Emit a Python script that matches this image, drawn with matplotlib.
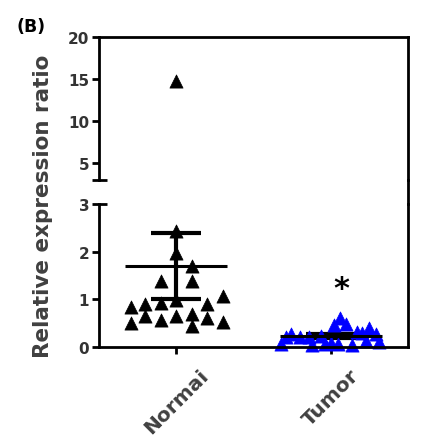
import matplotlib
matplotlib.use("Agg")
import matplotlib.pyplot as plt
from matplotlib.lines import Line2D
import numpy as np

# --- Data ---
groups = ["Normai", "Tumor"]
normal_vals = [14.8, 2.44, 1.98, 1.70, 1.39, 1.39, 1.07, 0.98, 0.84, 0.91,
               0.93, 0.90, 0.51, 0.65, 0.57, 0.64, 0.69, 0.60, 0.52, 0.44]
tumor_vals = [0.60, 0.46, 0.49, 0.32, 0.39, 0.28, 0.28, 0.21, 0.21, 0.23,
              0.06, 0.05, 0.06, 0.07, 0.05, 0.12, 0.11, 0.09, 0.20, 0.30]

# horizontal scatter offsets of the dots (dot-plot layout)
normal_jitter = [0.0, 0.0, 0.0, 0.10, -0.10, 0.10, 0.30, 0.0, -0.29, -0.20,
                 -0.10, 0.20, -0.29, -0.20, -0.10, 0.0, 0.10, 0.20, 0.30, 0.10]
tumor_jitter = [0.06, 0.02, 0.10, 0.17, 0.25, 0.29, -0.26, -0.20, -0.14, -0.06,
                -0.32, -0.12, -0.04, 0.05, 0.14, 0.23, 0.31, 0.0, -0.29, 0.20]

upper_ticks = [5, 10, 15, 20]
lower_ticks = [0, 1, 2, 3]
y_break = 3

W, H = 422, 439
fig = plt.figure(figsize=(W / 100, H / 100), dpi=100)

# axes boxes in pixels
x0, x1 = 99, 408
top_y0, top_y1 = 38, 181
bot_y0, bot_y1 = 205, 348
left = x0 / W
width = (x1 - x0) / W
ax_top = fig.add_axes([left, 1 - top_y1 / H, width, (top_y1 - top_y0) / H])
ax_bot = fig.add_axes([left, 1 - bot_y1 / H, width, (bot_y1 - bot_y0) / H])

lw = 2.0
tick_color = "#333333"

data = [np.array(normal_vals), np.array(tumor_vals)]
jitter = [np.array(normal_jitter), np.array(tumor_jitter)]
colors = ["black", "#0000ff"]

for i, (vals, jit, c) in enumerate(zip(data, jitter, colors)):
    hi = vals >= y_break
    lo = ~hi
    ax_top.scatter(i + jit[hi], vals[hi], marker="^", s=90, color=c,
                   edgecolors=c, linewidths=0.5, zorder=2)
    ax_bot.scatter(i + jit[lo], vals[lo], marker="^", s=90, color=c,
                   edgecolors=c, linewidths=0.5, zorder=2, clip_on=False)
    mean = vals.mean()
    sem = vals.std(ddof=1) / np.sqrt(len(vals))
    ax_bot.hlines(mean, i - 0.33, i + 0.33, color="black", lw=2.2, zorder=3)
    ax_bot.errorbar(i, mean, yerr=sem, fmt="none", ecolor="black",
                    elinewidth=3, capsize=18, capthick=3, zorder=1)

for ax in (ax_top, ax_bot):
    ax.set_xlim(-0.5, 1.5)
    for s in ax.spines.values():
        s.set_linewidth(lw)
    ax.tick_params(axis="y", length=5, width=lw, labelsize=11,
                   labelcolor=tick_color, pad=2)

ax_top.set_ylim(y_break, 20)
ax_top.set_yticks(upper_ticks)
ax_top.spines["bottom"].set_visible(False)
ax_top.set_xticks([])

ax_bot.set_ylim(0, y_break)
ax_bot.set_yticks(lower_ticks)
ax_bot.spines["top"].set_visible(False)
ax_bot.set_xticks([0, 1])
ax_bot.set_xticklabels(groups, rotation=45, ha="center", va="top",
                       fontsize=14.5, fontweight="bold", color="#404040")
ax_bot.tick_params(axis="x", length=5, width=lw, pad=8)

for ax in (ax_top, ax_bot):
    for lab in ax.get_yticklabels():
        lab.set_fontweight("bold")

# end caps of the broken left axis
ax_top.plot([-0.023, 0.026], [0, 0], transform=ax_top.transAxes,
            color="black", lw=lw, clip_on=False, solid_capstyle="butt")
ax_bot.plot([0, 0.026], [1, 1], transform=ax_bot.transAxes,
            color="black", lw=lw, clip_on=False, solid_capstyle="butt")

# right spine runs through the gap
fig.add_artist(Line2D([x1 / W, x1 / W], [1 - top_y1 / H, 1 - bot_y0 / H],
                      color="black", lw=lw, transform=fig.transFigure))

ax_bot.text(1.07, 1.22, "*", fontsize=22, fontweight="bold",
            ha="center", va="center")

fig.text(43 / W, 1 - 206 / H, "Relative expression ratio", rotation=90,
         ha="center", va="center", fontsize=15.5, fontweight="bold",
         color="#404040")
fig.text(16 / W, 1 - 27 / H, "(B)", ha="left", va="center", fontsize=12.5,
         fontweight="bold", color="black")

fig.savefig("out.png", dpi=100)
